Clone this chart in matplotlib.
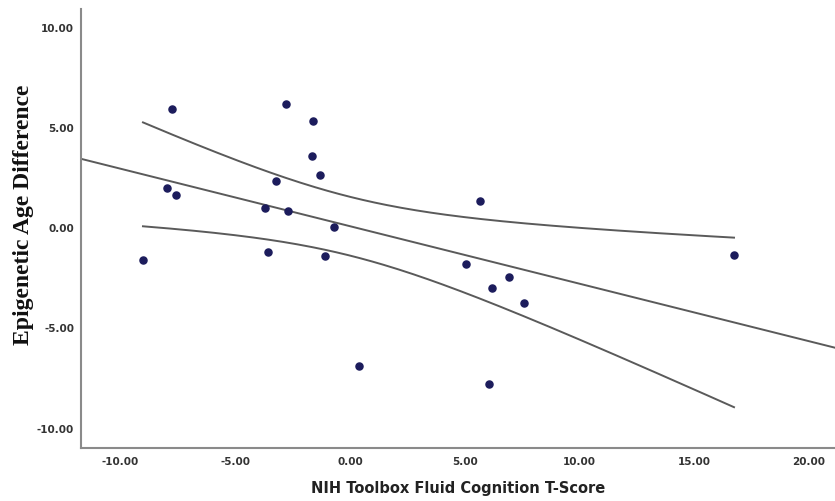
import matplotlib.pyplot as plt
import numpy as np

# Data
fluid_cognition = [-9.02, -7.76, -7.97, -7.58, -2.79, -3.22, -3.70, -2.70, -3.57,
                   -1.61, -1.66, -1.31, -0.70, -1.09, 0.39, 5.66, 5.05, 6.19,
                   6.93, 7.58, 6.06, 16.73]
age_difference = [-1.63, 5.93, 1.98, 1.63, 6.18, 2.33, 0.98, 0.83, -1.23,
                  5.33, 3.58, 2.63, 0.02, -1.42, -6.93, 1.33, -1.81, -3.03,
                  -2.46, -3.78, -7.83, -1.39]

x_ticks = [-10, -5, 0, 5, 10, 15, 20]
y_ticks = [-10, -5, 0, 5, 10]

x = np.array(fluid_cognition)
y = np.array(age_difference)

# Linear fit with 95% confidence band for the mean
slope, intercept = np.polyfit(x, y, 1)
n = len(x)
resid = y - (slope * x + intercept)
s = np.sqrt(np.sum(resid ** 2) / (n - 2))
t_crit = 2.086  # t(0.975, df=20)
x_band = np.linspace(x.min(), x.max(), 200)
se = s * np.sqrt(1 / n + (x_band - x.mean()) ** 2 / np.sum((x - x.mean()) ** 2))
y_band = slope * x_band + intercept

fig = plt.figure(figsize=(8.35, 5.02), dpi=100)
ax = fig.add_axes([0.097, 0.1056, 0.903, 0.8744])

x_min, x_max = -11.72, 21.13
x_line = np.array([x_min, x_max])
ax.plot(x_line, slope * x_line + intercept, color="#5a5a5a", lw=1.4)
ax.plot(x_band, y_band + t_crit * se, color="#5a5a5a", lw=1.4)
ax.plot(x_band, y_band - t_crit * se, color="#5a5a5a", lw=1.4)
ax.scatter(x, y, s=26, color="#1c1c5c", zorder=3)

ax.set_xlim(x_min, x_max)
ax.set_ylim(-11.02, 10.9)
ax.set_xticks(x_ticks)
ax.set_yticks(y_ticks)
ax.set_xticklabels([f"{v:.2f}" for v in x_ticks])
ax.set_yticklabels([f"{v:.2f}" for v in y_ticks])
ax.tick_params(length=0, labelsize=7.5, labelcolor="#333333")
ax.tick_params(axis="x", pad=6)
ax.tick_params(axis="y", pad=5)
for lab in ax.get_xticklabels() + ax.get_yticklabels():
    lab.set_fontweight("bold")

for side in ["top", "right"]:
    ax.spines[side].set_visible(False)
for side in ["left", "bottom"]:
    ax.spines[side].set_color("#8a8a8a")
    ax.spines[side].set_linewidth(1.5)

ax.set_xlabel("NIH Toolbox Fluid Cognition T-Score", fontsize=10.5,
              fontweight="bold", color="#222222", labelpad=10)
ax.set_ylabel("Epigenetic Age Difference", fontsize=17, fontweight="bold",
              family="Liberation Serif", color="#111111")
ax.yaxis.set_label_coords(-0.062, 0.533)

fig.savefig("out.png", dpi=100)
